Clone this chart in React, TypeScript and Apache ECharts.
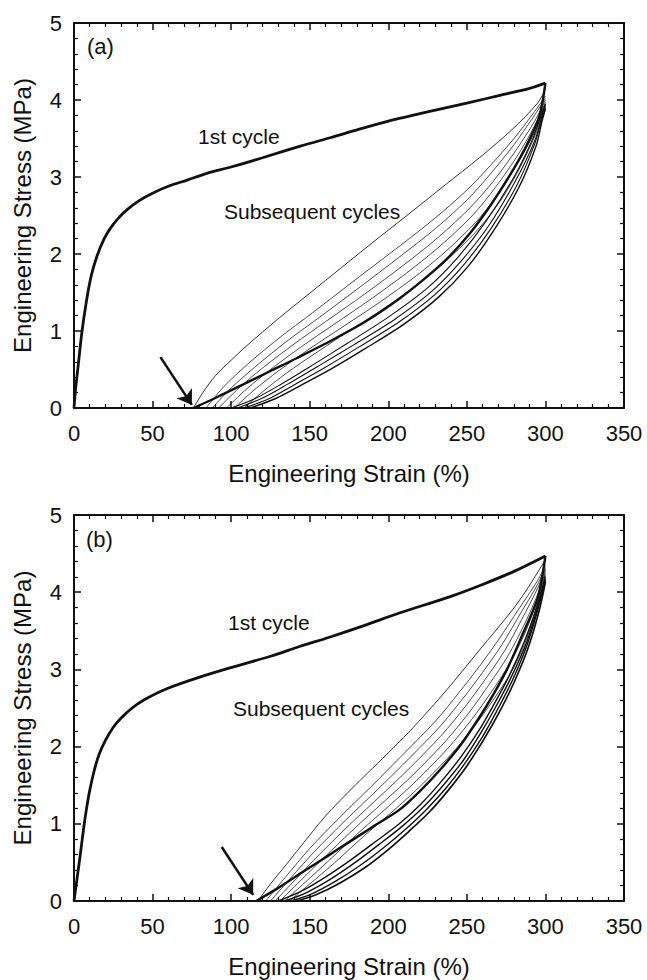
import React, { useEffect, useRef } from "react";
import * as echarts from "echarts";

// ---------- Panel (a) data: [strain %, stress MPa] ----------
const cycle1A = [[0,0],[1,0.25],[2.5,0.52],[5,0.98],[8,1.4],[11,1.72],[14.6,1.97],[19,2.19],[23,2.33],[28,2.46],[34,2.58],[42,2.7],[50,2.79],[60,2.88],[72,2.96],[85,3.05],[100,3.13],[120,3.25],[144,3.4],[163,3.51],[185,3.64],[207,3.76],[230,3.87],[250,3.96],[271,4.06],[290,4.15],[300,4.22]];
const unload1A = [[76,0],[90,0.13],[110,0.33],[125,0.48],[142,0.65],[165,0.89],[186,1.13],[207,1.42],[222,1.66],[237,1.93],[252,2.27],[265,2.63],[277,3.01],[288,3.41],[296,3.78],[300,4.22]];
const reloadTopA = [[76,0],[82,0.2],[90,0.42],[100,0.62],[110,0.81],[130,1.16],[150,1.49],[170,1.82],[195,2.23],[210,2.47],[237,2.91],[258,3.25],[279,3.62],[295,3.96],[300,4.14]];
const reloadA1 = [[84,0],[95,0.27],[110,0.56],[130,0.9],[152,1.24],[180,1.68],[207,2.1],[230,2.47],[250,2.83],[265,3.15],[280,3.5],[292,3.82],[300,4.05]];
const reloadA2 = [[88,0],[100,0.26],[115,0.53],[135,0.86],[155,1.16],[180,1.54],[207,1.96],[230,2.33],[250,2.7],[265,3.04],[280,3.42],[292,3.77],[300,4.02]];
const reloadA3 = [[92,0],[105,0.26],[120,0.52],[140,0.83],[160,1.12],[185,1.48],[210,1.86],[232,2.22],[252,2.6],[267,2.95],[281,3.34],[293,3.72],[300,4.0]];
const reloadA4 = [[97,0],[110,0.25],[125,0.5],[145,0.8],[165,1.08],[190,1.43],[214,1.79],[235,2.14],[254,2.51],[268,2.86],[282,3.27],[293,3.66],[300,3.97]];
const reloadA5 = [[102,0],[115,0.24],[130,0.48],[150,0.77],[170,1.04],[195,1.38],[218,1.72],[238,2.06],[256,2.42],[270,2.78],[283,3.2],[294,3.62],[300,3.95]];
const reloadA6 = [[108,0],[120,0.21],[135,0.45],[155,0.73],[175,1.0],[200,1.33],[222,1.66],[241,1.99],[258,2.34],[272,2.71],[284,3.13],[294,3.57],[300,3.93]];
const unloadA1 = [[100,0],[115,0.12],[131,0.3],[152,0.56],[174,0.84],[200,1.18],[225,1.56],[244,1.95],[262,2.42],[280,3.0],[292,3.5],[298,3.85],[300,3.95]];
const unloadA2 = [[104,0],[120,0.13],[136,0.31],[156,0.55],[178,0.82],[204,1.15],[228,1.52],[246,1.9],[264,2.37],[281,2.95],[293,3.46],[298,3.8],[300,3.92]];
const unloadA3 = [[108,0],[124,0.12],[140,0.3],[160,0.53],[182,0.8],[207,1.12],[230,1.48],[248,1.86],[265,2.32],[282,2.9],[293,3.42],[298,3.77],[300,3.9]];
const unloadA4 = [[112,0],[128,0.12],[144,0.29],[164,0.51],[186,0.78],[210,1.09],[232,1.44],[250,1.82],[266,2.27],[283,2.86],[294,3.4],[298,3.74],[300,3.88]];
const arrowA = [[55,0.66],[75,0.04]];

// ---------- Panel (b) data ----------
const cycle1B = [[0,0],[2,0.3],[4,0.6],[6,0.92],[8,1.2],[10,1.43],[13,1.7],[16,1.9],[20,2.08],[25,2.25],[30,2.37],[37,2.5],[45,2.61],[59,2.75],[80,2.9],[101,3.03],[125,3.17],[144,3.3],[163,3.42],[185,3.57],[207,3.73],[239,3.94],[260,4.1],[280,4.27],[300,4.47]];
const unload1B = [[116,0],[130,0.17],[145,0.37],[165,0.63],[190,0.96],[207,1.18],[220,1.42],[233,1.7],[246,2.02],[258,2.38],[267,2.68],[276,3.02],[286,3.48],[295,3.92],[300,4.47]];
const reloadTopB = [[117,0],[125,0.22],[135,0.47],[144,0.7],[160,1.1],[176,1.44],[190,1.72],[203,1.98],[216,2.25],[237,2.73],[258,3.25],[279,3.77],[288,4.03],[300,4.42]];
const reloadB1 = [[122,0],[135,0.32],[150,0.68],[170,1.1],[190,1.5],[207,1.85],[230,2.33],[245,2.7],[258,3.04],[270,3.38],[283,3.78],[295,4.15],[300,4.35]];
const reloadB2 = [[125,0],[138,0.3],[153,0.64],[173,1.05],[193,1.44],[209,1.76],[232,2.24],[247,2.61],[260,2.96],[272,3.31],[284,3.72],[295,4.1],[300,4.32]];
const reloadB3 = [[128,0],[141,0.28],[156,0.6],[176,1.0],[196,1.38],[212,1.69],[234,2.15],[249,2.52],[262,2.88],[274,3.24],[285,3.65],[295,4.05],[300,4.3]];
const reloadB4 = [[131,0],[144,0.26],[159,0.56],[179,0.95],[199,1.32],[215,1.62],[236,2.06],[251,2.43],[264,2.8],[276,3.17],[287,3.6],[296,4.02],[300,4.28]];
const reloadB5 = [[134,0],[147,0.24],[162,0.52],[182,0.9],[202,1.26],[218,1.56],[238,1.98],[253,2.35],[266,2.72],[278,3.1],[288,3.52],[296,3.98],[300,4.25]];
const reloadB6 = [[137,0],[150,0.22],[165,0.48],[185,0.85],[205,1.2],[221,1.5],[240,1.9],[255,2.27],[268,2.64],[280,3.03],[289,3.45],[296,3.93],[300,4.22]];
const unloadB1 = [[130,0],[145,0.13],[160,0.31],[176,0.53],[192,0.77],[207,1.0],[220,1.24],[233,1.53],[246,1.86],[258,2.22],[267,2.54],[277,2.92],[287,3.38],[295,3.84],[300,4.2]];
const unloadB2 = [[134,0],[148,0.11],[163,0.28],[179,0.5],[194,0.73],[209,0.97],[222,1.21],[235,1.5],[248,1.83],[259,2.18],[268,2.5],[278,2.89],[288,3.35],[295,3.8],[300,4.17]];
const unloadB3 = [[138,0],[151,0.09],[166,0.25],[182,0.46],[197,0.69],[211,0.93],[224,1.18],[237,1.47],[249,1.79],[260,2.13],[269,2.46],[279,2.86],[288,3.3],[295,3.76],[300,4.15]];
const unloadB4 = [[142,0],[154,0.08],[169,0.23],[185,0.43],[199,0.65],[213,0.9],[226,1.15],[238,1.43],[250,1.75],[261,2.1],[270,2.42],[280,2.83],[289,3.28],[296,3.76],[300,4.13]];
const arrowB = [[94,0.7],[114,0.08]];

// ---------- Axis settings ----------
const xTicks = { min: 0, max: 350, interval: 50 };
const yTicks = { min: 0, max: 5, interval: 1 };
const xTitle = "Engineering Strain (%)";
const yTitle = "Engineering Stress (MPa)";
const panelLabels = ["(a)", "(b)"];
const cycleLabels = ["1st cycle", "Subsequent cycles"];

const FONT = "'Liberation Sans', Arial, Helvetica, sans-serif";
const INK = "#111";

function App() {
  const ref = useRef<HTMLDivElement>(null);

  useEffect(() => {
    if (!ref.current) return;
    const chart = echarts.init(ref.current, undefined, { renderer: "svg" });

    const grids = [
      { left: 74, top: 23, width: 550, height: 385 },
      { left: 74, top: 515, width: 550, height: 386 },
    ];

    const tickCommon = {
      axisTick: { show: true, inside: true, length: 7, lineStyle: { color: INK, width: 1.5 } },
      minorTick: { show: true, splitNumber: 5, length: 4, lineStyle: { color: INK, width: 1.2 } },
      splitLine: { show: false },
      minorSplitLine: { show: false },
    };

    const xAxes: any[] = [];
    const yAxes: any[] = [];
    [0, 1].forEach((g) => {
      xAxes.push({
        type: "value", gridIndex: g, position: "bottom", ...xTicks,
        axisLine: { show: true, onZero: false, lineStyle: { color: INK, width: 2 } },
        axisLabel: { show: true, margin: 14, fontSize: 22, color: INK, fontFamily: FONT },
        ...tickCommon,
      });
      xAxes.push({
        type: "value", gridIndex: g, position: "top", ...xTicks,
        axisLine: { show: true, onZero: false, lineStyle: { color: INK, width: 2 } },
        axisLabel: { show: false },
        ...tickCommon,
      });
      yAxes.push({
        type: "value", gridIndex: g, position: "left", ...yTicks,
        axisLine: { show: true, onZero: false, lineStyle: { color: INK, width: 2 } },
        axisLabel: { show: true, margin: 12, fontSize: 22, color: INK, fontFamily: FONT },
        ...tickCommon,
      });
      yAxes.push({
        type: "value", gridIndex: g, position: "right", ...yTicks,
        axisLine: { show: true, onZero: false, lineStyle: { color: INK, width: 2 } },
        axisLabel: { show: false },
        ...tickCommon,
      });
    });

    const mk = (data: number[][], panel: number, width: number, color = INK, extra: any = {}) => ({
      type: "line",
      xAxisIndex: panel * 2,
      yAxisIndex: panel * 2,
      data,
      showSymbol: false,
      symbol: "none",
      smooth: 0.3,
      silent: true,
      lineStyle: { color, width },
      z: 3,
      ...extra,
    });

    const arrowMark = (pts: number[][]) => ({
      markLine: {
        silent: true,
        symbol: ["none", "arrow"],
        symbolSize: 14,
        label: { show: false },
        lineStyle: { color: INK, width: 2.5, type: "solid" },
        data: [[{ coord: pts[0] }, { coord: pts[1] }]],
      },
    });

    const thin = "#000";
    const series: any[] = [
      // panel a
      mk(reloadA1, 0, 0.7, thin),
      mk(reloadA2, 0, 0.7, thin),
      mk(reloadA3, 0, 0.7, thin),
      mk(reloadA4, 0, 0.7, thin),
      mk(reloadA5, 0, 0.7, thin),
      mk(reloadA6, 0, 0.7, thin),
      mk(reloadTopA, 0, 0.8, thin),
      mk(unloadA1, 0, 1.1, "#111"),
      mk(unloadA2, 0, 1.1, "#111"),
      mk(unloadA3, 0, 1.1, "#111"),
      mk(unloadA4, 0, 1.4, "#111"),
      mk(unload1A, 0, 2.4),
      mk(cycle1A, 0, 2.8, INK, arrowMark(arrowA)),
      // panel b
      mk(reloadB1, 1, 0.7, thin),
      mk(reloadB2, 1, 0.7, thin),
      mk(reloadB3, 1, 0.7, thin),
      mk(reloadB4, 1, 0.7, thin),
      mk(reloadB5, 1, 0.7, thin),
      mk(reloadB6, 1, 0.7, thin),
      mk(reloadTopB, 1, 0.8, thin),
      mk(unloadB1, 1, 1.4, "#111"),
      mk(unloadB2, 1, 1.4, "#111"),
      mk(unloadB3, 1, 1.4, "#111"),
      mk(unloadB4, 1, 1.7, "#111"),
      mk(unload1B, 1, 2.4),
      mk(cycle1B, 1, 2.8, INK, arrowMark(arrowB)),
    ];

    const txt = (text: string, x: number, y: number, size: number, align = "left", rotation = 0) => ({
      type: "text",
      x, y, rotation,
      silent: true,
      style: {
        text, fill: INK, font: `${size}px ${FONT}`,
        align, verticalAlign: "middle",
      },
      z: 10,
    });

    const graphic = [
      txt(xTitle, 349, 473, 24, "center"),
      txt(xTitle, 349, 966, 24, "center"),
      txt(yTitle, 22.5, 215.5, 24, "center", Math.PI / 2),
      txt(yTitle, 22.5, 708, 24, "center", Math.PI / 2),
      txt(panelLabels[0], 87, 46, 22),
      txt(panelLabels[1], 86, 539, 22),
      txt(cycleLabels[0], 198, 136, 21),
      txt(cycleLabels[0], 228, 622, 21),
      txt(cycleLabels[1], 224, 211, 21),
      txt(cycleLabels[1], 233, 708, 21),
    ];

    chart.setOption({
      animation: false,
      backgroundColor: "#fff",
      textStyle: { fontFamily: FONT },
      grid: grids,
      xAxis: xAxes,
      yAxis: yAxes,
      series,
      graphic,
    });

    return () => chart.dispose();
  }, []);

  return (
    <div
      ref={ref}
      style={{ position: "absolute", left: 0, top: 0, width: 647, height: 980, background: "#fff" }}
    />
  );
}

export default App;
